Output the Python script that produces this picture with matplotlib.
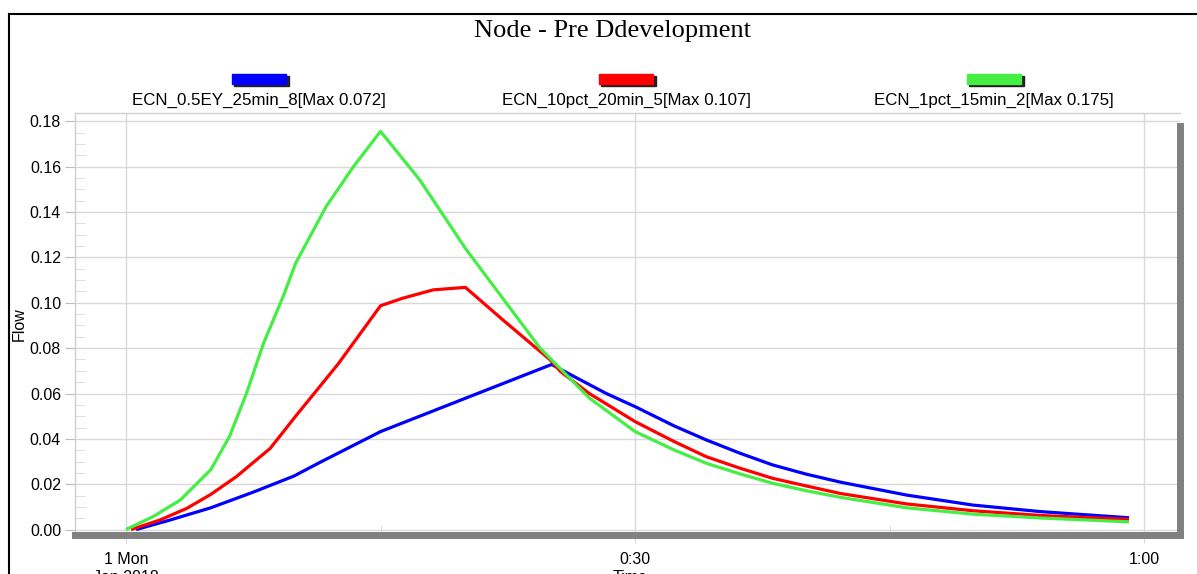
import matplotlib.pyplot as plt
from matplotlib.patches import Rectangle
from matplotlib.lines import Line2D

# time in minutes from 1 Jan 2018 00:00, flow values
blue_t = [0.6, 2.6, 5, 7.5, 9.9, 11.4, 15, 20, 25.08, 26.4, 28.3, 30, 32.3, 34.2, 36.2,
          38.1, 40.1, 42.1, 46, 49.9, 53.9, 59.1]
blue_q = [0.0, 0.0042, 0.0096, 0.0165, 0.0236, 0.0295, 0.0432, 0.0579, 0.0728, 0.0675,
          0.060, 0.0542, 0.0457, 0.0395, 0.0336, 0.0285, 0.0244, 0.0209, 0.0152, 0.0108,
          0.0079, 0.0052]

red_t = [0.3, 2.0, 3.6, 5, 6.5, 8.5, 10, 12.5, 15, 16.3, 18.1, 20, 22.2, 25, 25.6, 27.3,
         30, 32.3, 34.2, 36.2, 38.1, 40.1, 42.1, 46, 49.9, 53.9, 59.1]
red_q = [0.0, 0.0042, 0.0094, 0.0155, 0.0233, 0.0358, 0.050, 0.073, 0.0987, 0.102,
         0.1057, 0.1068, 0.0925, 0.0748, 0.0697, 0.060, 0.0476, 0.0388, 0.0321, 0.027,
         0.0226, 0.0192, 0.0159, 0.0113, 0.0083, 0.0062, 0.0045]

green_t = [0, 1.6, 3.2, 5, 6.1, 7.1, 8.1, 9.3, 10, 11.8, 13.4, 15, 17.3, 20, 24.4,
           27.3, 30, 32.3, 34.2, 36.2, 38.1, 40.1, 42.1, 46, 49.9, 53.9, 59.1]
green_q = [0.0, 0.0057, 0.013, 0.0264, 0.041, 0.060, 0.082, 0.1035, 0.1175, 0.1425,
           0.160, 0.1756, 0.1543, 0.124, 0.080, 0.058, 0.0432, 0.0351, 0.0292, 0.0245,
           0.0204, 0.0171, 0.0142, 0.0096, 0.0068, 0.0051, 0.0034]

labels = ["ECN_0.5EY_25min_8[Max 0.072]", "ECN_10pct_20min_5[Max 0.107]",
          "ECN_1pct_15min_2[Max 0.175]"]
colors = ["#0000ff", "#ff0000", "#44ee44"]
xtick_pos = [0, 30, 60]
xtick_lab = ["1 Mon\nJan 2018", "0:30", "1:00"]

plt.rcParams['font.family'] = ['Liberation Sans', 'DejaVu Sans']

fig = plt.figure(figsize=(11.97, 5.74), dpi=100)
W, H = 1197, 574

# outer frame (cut off at right and bottom)
fig.add_artist(Line2D([9 / W, 9 / W], [0, 1 - 14 / H], color='black', lw=1.5,
                      transform=fig.transFigure))
fig.add_artist(Line2D([9 / W, 1], [1 - 14 / H, 1 - 14 / H], color='black', lw=1.5,
                      transform=fig.transFigure))

fig.text(612 / W, 1 - 31 / H, "Node - Pre Ddevelopment", ha='center', va='center',
         fontsize=19, family='Liberation Serif')

ax = fig.add_axes([75 / W, 1 - 535 / H, (1180 - 75) / W, (535 - 113) / H])
for t, q, c in zip([blue_t, red_t, green_t], [blue_q, red_q, green_q], colors):
    ax.plot(t, q, color=c, lw=2.3, solid_capstyle='butt', solid_joinstyle='round', zorder=3)

ax.set_xlim(-3, 62.1)
ax.set_ylim(-0.0024, 0.1837)
ax.set_yticks([i * 0.02 for i in range(10)])
ax.set_yticklabels(["%.2f" % (i * 0.02) for i in range(10)], fontsize=11.5)
ax.set_yticks([i * 0.005 for i in range(37)], minor=True)
ax.set_xticks(xtick_pos)
ax.set_xticklabels(xtick_lab, fontsize=11.5, linespacing=1.3)
ax.set_xticks([15, 45], minor=True)
ax.grid(True, which='major', color='#d9d9d9', lw=1)
ax.tick_params(axis='y', which='major', length=7, color='#bbbbbb', pad=3)
ax.tick_params(axis='y', which='minor', direction='in', length=7, color='#d9d9d9')
ax.tick_params(axis='x', which='major', length=6, color='#d9d9d9', pad=6)
ax.tick_params(axis='x', which='minor', direction='in', length=7, color='#d9d9d9')

for s in ['left', 'top']:
    ax.spines[s].set_color('#d0d0d0')
    ax.spines[s].set_linewidth(1)
for s in ['right', 'bottom']:
    ax.spines[s].set_color('#808080')
    ax.spines[s].set_linewidth(5)
ax.spines['right'].set_bounds(-0.0024, 0.178)

ax.set_ylabel("Flow", fontsize=11.5, labelpad=2)
ax.yaxis.set_label_coords(-0.044, 0.5)
ax.set_xlabel("Time", fontsize=11.5, labelpad=-2)
ax.xaxis.set_label_coords((630 - 75) / (1180 - 75), -0.083)

# legend drawn as in the original: swatch above each label
centers = [259, 626, 994]
for cx, lab, c in zip(centers, labels, colors):
    fig.patches.append(Rectangle(((cx - 25) / W, 1 - 86 / H), 55 / W, 10 / H,
                                 transform=fig.transFigure, color='#222222', zorder=1))
    fig.patches.append(Rectangle(((cx - 27) / W, 1 - 84 / H), 54 / W, 10 / H,
                                 transform=fig.transFigure, color=c, zorder=2))
    fig.text(cx / W, 1 - 100 / H, lab, ha='center', va='center', fontsize=12.2)

fig.savefig("out.png", dpi=100)
